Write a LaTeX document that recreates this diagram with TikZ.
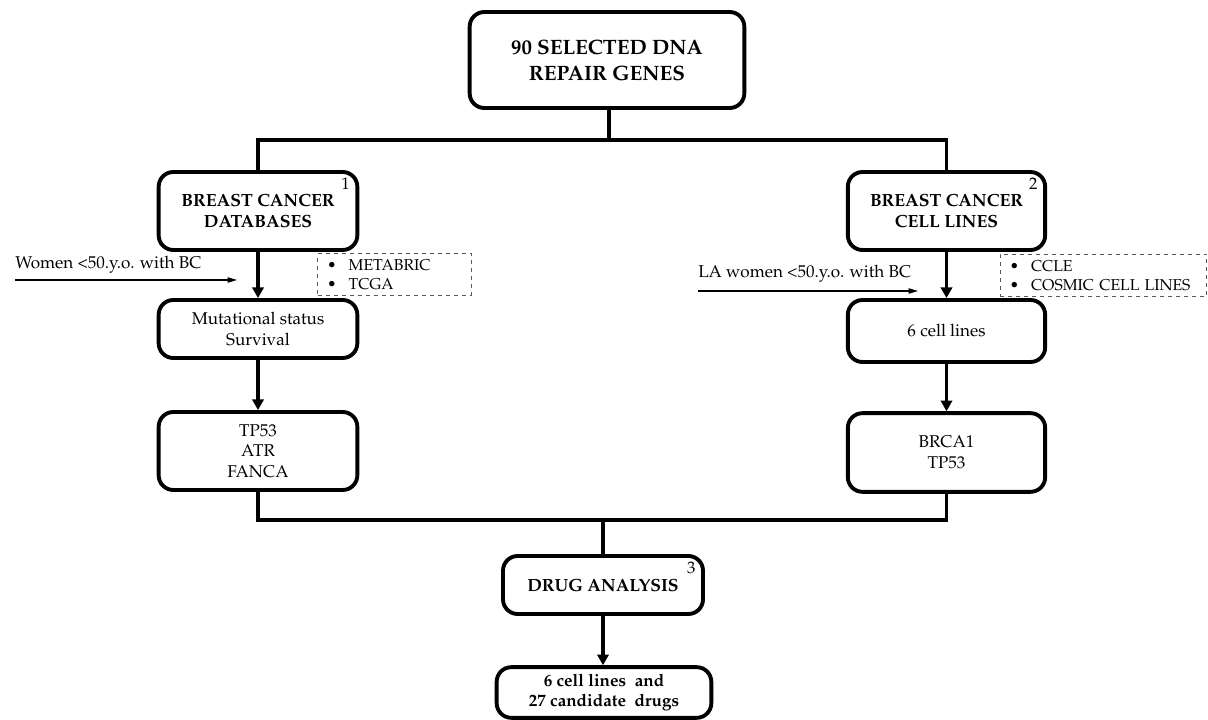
\documentclass[tikz,border=0pt]{standalone}
\usepackage[T1]{fontenc}
\usepackage{mathpazo}
\usetikzlibrary{positioning,arrows.meta}

\tikzset{
  box/.style={draw, line width=2.9pt, rounded corners=11pt, align=center, inner sep=2pt,
    font=\fontsize{12.8}{15.5}\selectfont},
  head/.style={box, font=\fontsize{13.2}{15.5}\selectfont\bfseries},
  src/.style={draw=gray!70!black, dashed, line width=0.6pt, align=left,
    font=\fontsize{11.8}{14.5}\selectfont},
  num/.style={label={[anchor=north east, inner sep=0pt, xshift=-7pt, yshift=-6pt,
    font=\fontsize{12.5}{12.5}\selectfont]north east:#1}},
  link/.style={line width=2.9pt},
  flow/.style={line width=2.9pt, -{Triangle[length=8pt,width=8.5pt]}},
  note/.style={line width=0.8pt, -{Triangle[length=7pt,width=4pt]}},
}

\begin{document}
\begin{tikzpicture}[x=0.75pt,y=-0.75pt]
    \useasboundingbox (0,0) rectangle (1208,720);

    % Top
    \node[box, font=\fontsize{15.6}{19.5}\selectfont\bfseries, minimum width=206pt, minimum height=72pt]
        (genes) at (607,60) {90 SELECTED DNA\\REPAIR GENES};

    % Left branch: databases
    \node[head, num=1, minimum width=149pt, minimum height=58.5pt] (db) at (258,211)
        {BREAST CANCER\\DATABASES};
    \node[box, minimum width=149pt, minimum height=43.5pt] (mut) at (258,329)
        {Mutational status\\Survival};
    \node[box, minimum width=149pt, minimum height=58.5pt] (lgenes) at (258,451)
        {TP53\\ATR\\FANCA};
    \node[src, inner xsep=7pt, inner ysep=1pt, text width=101pt, minimum height=31pt] (dbsrc) at (394.5,274.5)
        {\textbullet\hspace{9pt}METABRIC\\\textbullet\hspace{9pt}TCGA};

    % Right branch: cell lines
    \node[head, num=2, minimum width=148pt, minimum height=58.5pt] (cell) at (946.5,211)
        {BREAST CANCER\\CELL LINES};
    \node[box, minimum width=148pt, minimum height=46.5pt] (six) at (946.5,331)
        {6 cell lines};
    \node[src, inner xsep=7pt, inner ysep=1pt, text width=141pt, minimum height=32pt] (cellsrc) at (1103.5,275.5)
        {\textbullet\hspace{9pt}CCLE\\\textbullet\hspace{9pt}\mbox{COSMIC CELL LINES}};
    \node[box, minimum width=148pt, minimum height=59pt] (rgenes) at (946.5,452.5)
        {BRCA1\\TP53};

    % Bottom
    \node[head, num=3, minimum width=150pt, minimum height=43.5pt] (drug) at (603,585)
        {DRUG ANALYSIS};
    \node[box, font=\fontsize{12.8}{15.5}\selectfont\bfseries, minimum width=161pt, minimum height=38pt]
        (final) at (604,692.5) {6 cell lines~~and\\27 candidate~~drugs};

    % Filters
    \node[anchor=south west, inner sep=0pt, font=\fontsize{12.8}{14}\selectfont] (wleft) at (15,274)
        {Women \textless50.y.o. with BC};
    \coordinate (wls) at (15,280);
    \coordinate (wle) at (237,280);
    \draw[note] (wls) -- (wle);

    \node[anchor=south west, inner sep=0pt, font=\fontsize{12.8}{14}\selectfont] (wright) at (698,283)
        {LA women \textless50.y.o. with BC};
    \coordinate (wrs) at (698,291);
    \coordinate (wre) at (918,291);
    \draw[note] (wrs) -- (wre);

    % Connectors
    \coordinate (split) at (609,140);
    \coordinate (join) at (603,520);
    \draw[link] (genes.south -| split) -- (split);
    \draw[link] (db.north) |- (split) -| (cell.north);
    \draw[flow] (db) -- (mut);
    \draw[flow] (mut) -- (lgenes);
    \draw[flow] (cell) -- (six);
    \draw[flow] (six) -- (rgenes);
    \draw[link] (lgenes.south) |- (join) -| (rgenes.south);
    \draw[link] (join) -- (drug.north -| join);
    \draw[flow] (drug.south) -- (drug.south |- final.north);
\end{tikzpicture}
\end{document}
